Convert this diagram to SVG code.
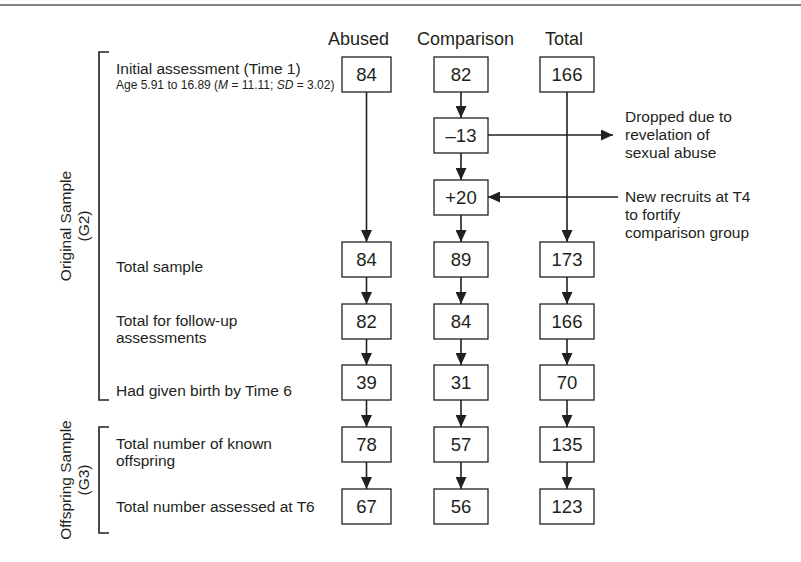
<svg xmlns="http://www.w3.org/2000/svg" width="801" height="562" viewBox="0 0 801 562">
<style>
text{font-family:"Liberation Sans",Arial,sans-serif;fill:#231f20}
.hd{font-size:18px}
.num{font-size:18.5px;text-anchor:middle}
.lb{font-size:15.5px}
.sm{font-size:12px}
.box{fill:#fff;stroke:#231f20;stroke-width:1.3}
.ln{fill:none;stroke:#231f20;stroke-width:1.6}
.br{fill:none;stroke:#231f20;stroke-width:1.6}
</style>
<defs>
<marker id="ah" markerUnits="userSpaceOnUse" markerWidth="12" markerHeight="11" refX="12" refY="5.5" orient="auto">
<path d="M0,0 L12,5.5 L0,11 z" fill="#231f20"/>
</marker>
</defs>
<rect width="801" height="562" fill="#fff"/>
<line x1="0" y1="5" x2="801" y2="5" stroke="#58595b" stroke-width="1.6"/>

<g id="headers">
<text class="hd" x="328" y="45">Abused</text>
<text class="hd" x="417" y="45">Comparison</text>
<text class="hd" x="545" y="45">Total</text>
</g>

<g id="brackets">
<path class="br" d="M109,52 H99 V400 H109"/>
<path class="br" d="M109,427 H99 V533 H109"/>
<text class="lb" transform="translate(71,226) rotate(-90)" text-anchor="middle">Original Sample</text>
<text class="lb" transform="translate(89,226) rotate(-90)" text-anchor="middle">(G2)</text>
<text class="lb" transform="translate(71,480) rotate(-90)" text-anchor="middle">Offspring Sample</text>
<text class="lb" transform="translate(89,480) rotate(-90)" text-anchor="middle">(G3)</text>
</g>

<g id="row-labels">
<text class="lb" x="116" y="74">Initial assessment (Time 1)</text>
<text class="sm" x="116" y="89">Age 5.91 to 16.89 (<tspan font-style="italic">M</tspan> = 11.11; <tspan font-style="italic">SD</tspan> = 3.02)</text>
<text class="lb" x="116" y="272">Total sample</text>
<text class="lb" x="116" y="326">Total for follow-up</text>
<text class="lb" x="116" y="343">assessments</text>
<text class="lb" x="116" y="396">Had given birth by Time 6</text>
<text class="lb" x="116" y="449">Total number of known</text>
<text class="lb" x="116" y="466">offspring</text>
<text class="lb" x="116" y="512">Total number assessed at T6</text>
</g>

<g id="side-notes">
<text class="lb" x="625" y="122">Dropped due to</text>
<text class="lb" x="625" y="140">revelation of</text>
<text class="lb" x="625" y="158">sexual abuse</text>
<text class="lb" x="625" y="202">New recruits at T4</text>
<text class="lb" x="625" y="220">to fortify</text>
<text class="lb" x="625" y="238">comparison group</text>
</g>

<g id="connectors">
<line class="ln" x1="366.5" y1="92" x2="366.5" y2="242" marker-end="url(#ah)"/>
<line class="ln" x1="567" y1="92" x2="567" y2="242" marker-end="url(#ah)"/>
<line class="ln" x1="461" y1="92" x2="461" y2="118" marker-end="url(#ah)"/>
<line class="ln" x1="461" y1="153" x2="461" y2="180" marker-end="url(#ah)"/>
<line class="ln" x1="461" y1="215" x2="461" y2="242" marker-end="url(#ah)"/>
<line class="ln" x1="488" y1="135" x2="613" y2="135" marker-end="url(#ah)"/>
<line class="ln" x1="618" y1="197" x2="488" y2="197" marker-end="url(#ah)"/>
<line class="ln" x1="366.5" y1="277" x2="366.5" y2="304" marker-end="url(#ah)"/>
<line class="ln" x1="461" y1="277" x2="461" y2="304" marker-end="url(#ah)"/>
<line class="ln" x1="567" y1="277" x2="567" y2="304" marker-end="url(#ah)"/>
<line class="ln" x1="366.5" y1="339" x2="366.5" y2="365" marker-end="url(#ah)"/>
<line class="ln" x1="461" y1="339" x2="461" y2="365" marker-end="url(#ah)"/>
<line class="ln" x1="567" y1="339" x2="567" y2="365" marker-end="url(#ah)"/>
<line class="ln" x1="366.5" y1="400" x2="366.5" y2="427" marker-end="url(#ah)"/>
<line class="ln" x1="461" y1="400" x2="461" y2="427" marker-end="url(#ah)"/>
<line class="ln" x1="567" y1="400" x2="567" y2="427" marker-end="url(#ah)"/>
<line class="ln" x1="366.5" y1="462" x2="366.5" y2="489" marker-end="url(#ah)"/>
<line class="ln" x1="461" y1="462" x2="461" y2="489" marker-end="url(#ah)"/>
<line class="ln" x1="567" y1="462" x2="567" y2="489" marker-end="url(#ah)"/>
</g>

<g id="a1"><rect class="box" x="342" y="57" width="49" height="35"/><text class="num" x="366.5" y="81">84</text></g>
<g id="c1"><rect class="box" x="434" y="57" width="54" height="35"/><text class="num" x="461" y="81">82</text></g>
<g id="t1"><rect class="box" x="540" y="57" width="54" height="35"/><text class="num" x="567" y="81">166</text></g>
<g id="c-drop"><rect class="box" x="434" y="118" width="54" height="35"/><text class="num" x="461" y="142">–13</text></g>
<g id="c-add"><rect class="box" x="434" y="180" width="54" height="35"/><text class="num" x="461" y="204">+20</text></g>
<g id="a2"><rect class="box" x="342" y="242" width="49" height="35"/><text class="num" x="366.5" y="266">84</text></g>
<g id="c2"><rect class="box" x="434" y="242" width="54" height="35"/><text class="num" x="461" y="266">89</text></g>
<g id="t2"><rect class="box" x="540" y="242" width="54" height="35"/><text class="num" x="567" y="266">173</text></g>
<g id="a3"><rect class="box" x="342" y="304" width="49" height="35"/><text class="num" x="366.5" y="328">82</text></g>
<g id="c3"><rect class="box" x="434" y="304" width="54" height="35"/><text class="num" x="461" y="328">84</text></g>
<g id="t3"><rect class="box" x="540" y="304" width="54" height="35"/><text class="num" x="567" y="328">166</text></g>
<g id="a4"><rect class="box" x="342" y="365" width="49" height="35"/><text class="num" x="366.5" y="389">39</text></g>
<g id="c4"><rect class="box" x="434" y="365" width="54" height="35"/><text class="num" x="461" y="389">31</text></g>
<g id="t4"><rect class="box" x="540" y="365" width="54" height="35"/><text class="num" x="567" y="389">70</text></g>
<g id="a5"><rect class="box" x="342" y="427" width="49" height="35"/><text class="num" x="366.5" y="451">78</text></g>
<g id="c5"><rect class="box" x="434" y="427" width="54" height="35"/><text class="num" x="461" y="451">57</text></g>
<g id="t5"><rect class="box" x="540" y="427" width="54" height="35"/><text class="num" x="567" y="451">135</text></g>
<g id="a6"><rect class="box" x="342" y="489" width="49" height="35"/><text class="num" x="366.5" y="513">67</text></g>
<g id="c6"><rect class="box" x="434" y="489" width="54" height="35"/><text class="num" x="461" y="513">56</text></g>
<g id="t6"><rect class="box" x="540" y="489" width="54" height="35"/><text class="num" x="567" y="513">123</text></g>
</svg>
